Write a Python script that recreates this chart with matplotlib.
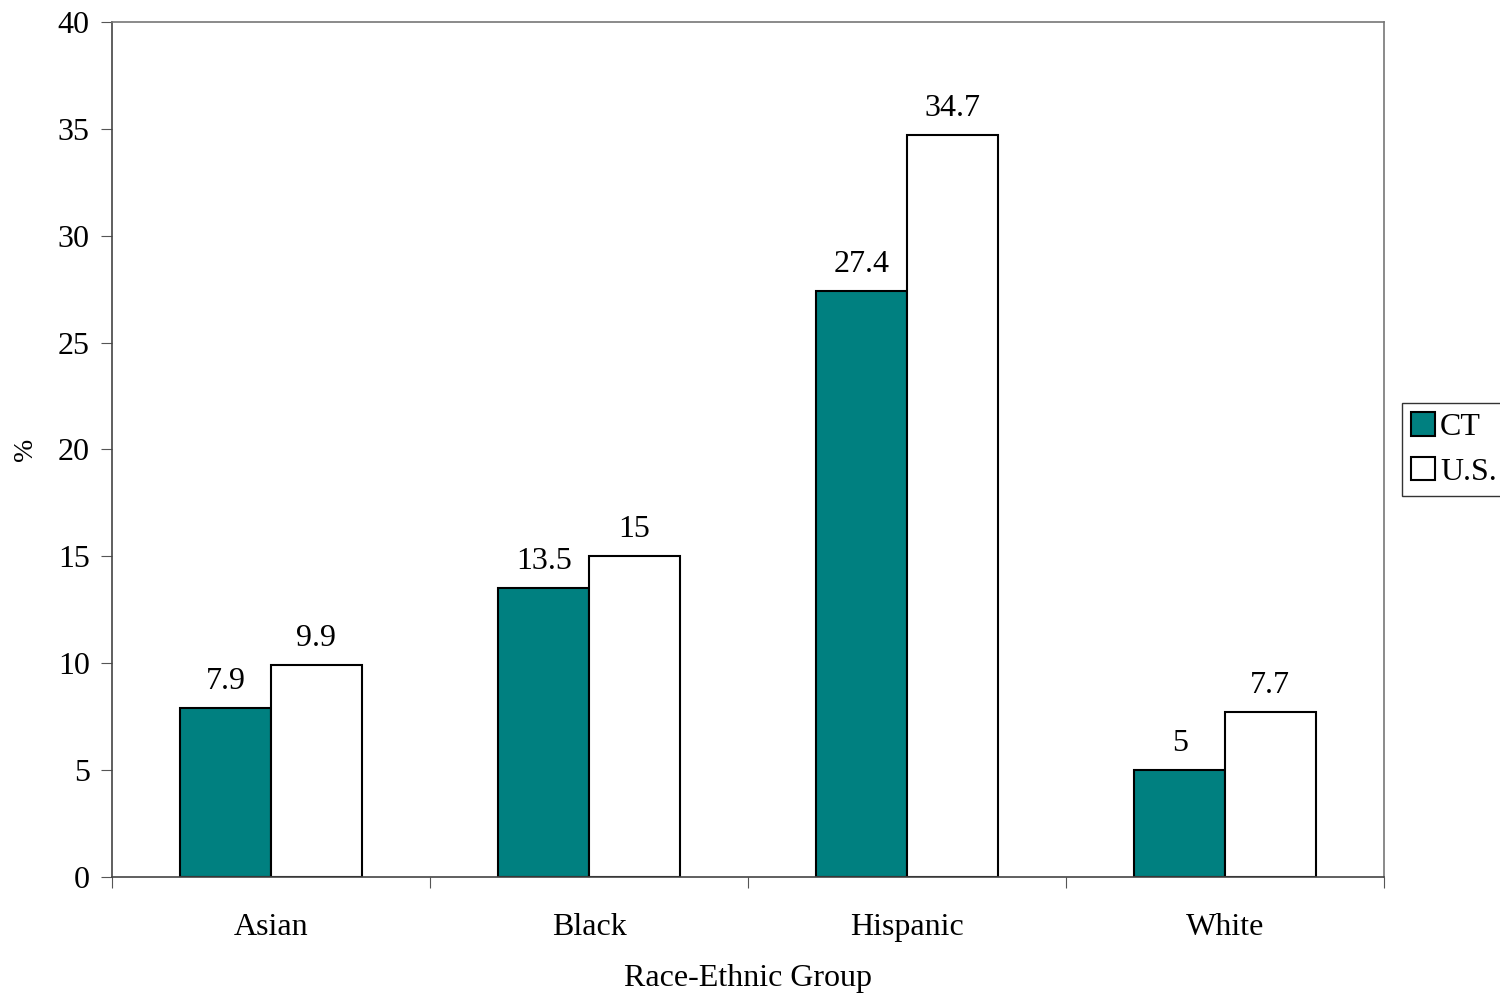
import numpy as np
import matplotlib.pyplot as plt

# Данные
groups = ['Asian', 'Black', 'Hispanic', 'White']
ct_vals = [7.9, 13.5, 27.4, 5]
us_vals = [9.9, 15, 34.7, 7.7]
ct_labels = ['7.9', '13.5', '27.4', '5']
us_labels = ['9.9', '15', '34.7', '7.7']

plt.rcParams['font.family'] = ['Liberation Serif', 'DejaVu Serif']
FS = 23

fig = plt.figure(figsize=(15, 9.97), dpi=100)
ax = fig.add_axes([0.0747, 0.1204, 0.848, 0.8575])

x = np.arange(len(groups))
w = 0.285
b1 = ax.bar(x - w / 2, ct_vals, w, color='#008080', edgecolor='black', linewidth=1.5, label='CT')
b2 = ax.bar(x + w / 2, us_vals, w, color='white', edgecolor='black', linewidth=1.5, label='U.S.')

for bar, lab in zip(b1, ct_labels):
    ax.annotate(lab, (bar.get_x() + bar.get_width() / 2, bar.get_height()),
                xytext=(0, 9), textcoords='offset points', ha='center', va='bottom', fontsize=FS)
for bar, lab in zip(b2, us_labels):
    ax.annotate(lab, (bar.get_x() + bar.get_width() / 2, bar.get_height()),
                xytext=(0, 9), textcoords='offset points', ha='center', va='bottom', fontsize=FS)

ax.set_xlim(-0.5, 3.5)
ax.set_ylim(0, 40)
ax.set_yticks(np.arange(0, 41, 5))
ax.set_xticks(np.arange(-0.5, 3.6, 1))
ax.set_xticklabels([])
ax.set_xticks(x, minor=True)
ax.set_xticklabels(groups, minor=True, fontsize=FS)
ax.tick_params(axis='x', which='minor', length=0, pad=26)
ax.tick_params(axis='x', which='major', length=8, direction='out', color='#555555')
ax.tick_params(axis='y', length=8, direction='out', color='#555555', labelsize=FS, pad=8)

for s in ax.spines.values():
    s.set_color('#777777')
    s.set_linewidth(1.2)
ax.spines['bottom'].set_color('#444444')
ax.spines['left'].set_color('#444444')

ax.set_xlabel('Race-Ethnic Group', fontsize=FS, labelpad=16)
ax.set_ylabel('%', fontsize=20, labelpad=14)

leg = ax.legend(loc='center left', bbox_to_anchor=(1.014, 0.5), fontsize=FS, frameon=True,
                fancybox=False, edgecolor='black', handlelength=0.75, handleheight=0.75,
                handletextpad=0.15, borderpad=0.3, labelspacing=0.45, borderaxespad=0)
leg.get_frame().set_linewidth(1.0)

fig.savefig('out.png', dpi=100)
